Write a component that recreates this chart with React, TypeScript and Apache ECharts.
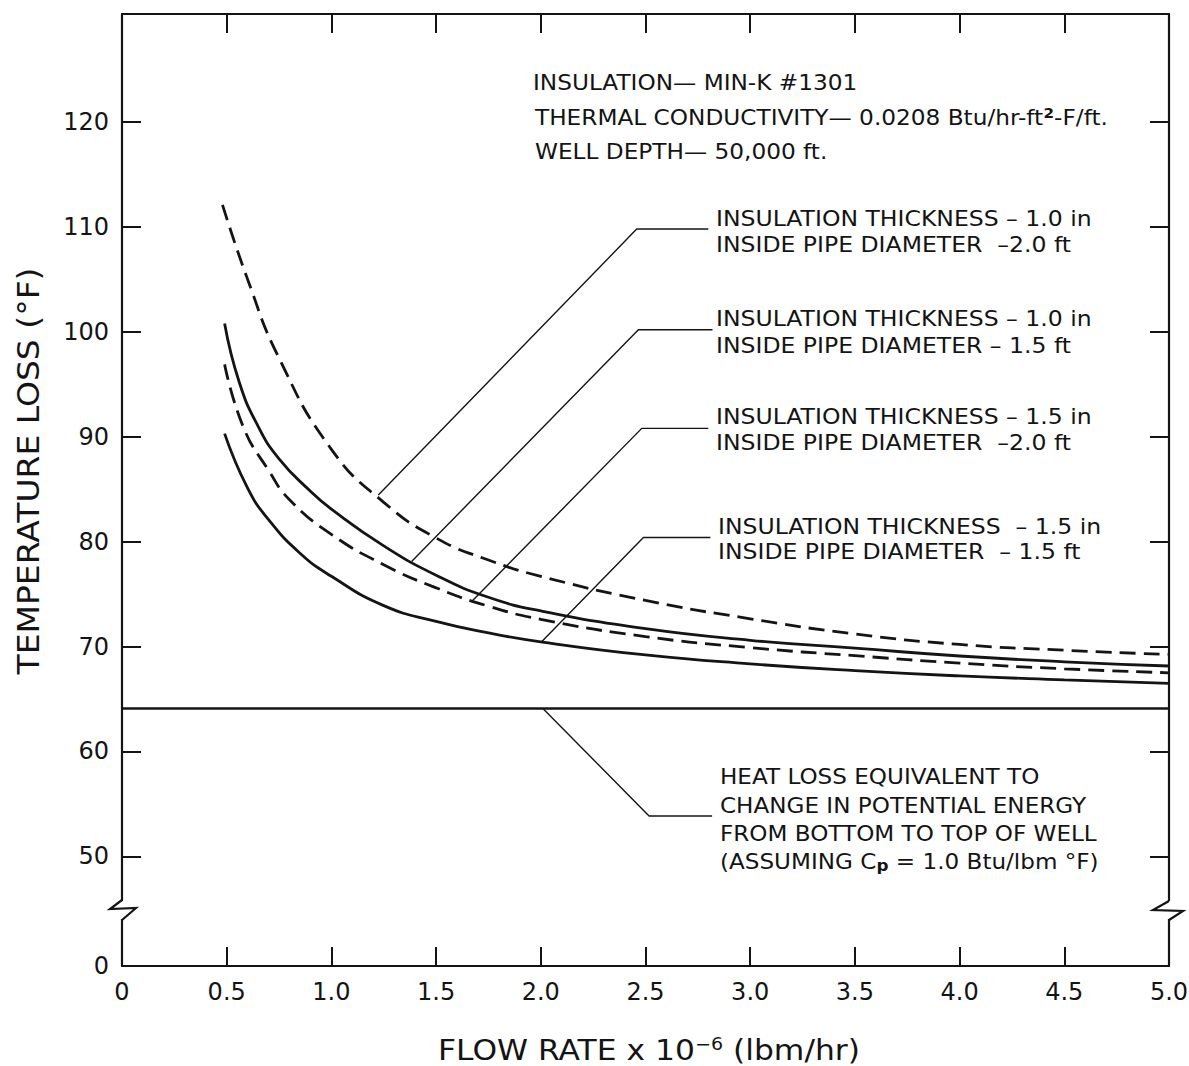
import { useEffect, useRef } from 'react';
import * as echarts from 'echarts';

// ---------- data ----------
// x: flow rate x 10^-6 (lbm/hr), y: temperature loss (°F)
const flowA = [0.48, 0.6, 0.75, 1.0, 1.25, 1.5, 1.75, 2.0, 2.5, 3.0, 3.5, 4.0, 4.5, 5.0];
const lossA = [112.1, 105.0, 97.5, 88.8, 83.75, 80.35, 78.25, 76.7, 74.4, 72.65, 71.2, 70.2, 69.65, 69.25]; // 1.0 in / 2.0 ft (dashed)

const flowB = [0.49, 0.56, 0.65, 0.75, 0.9, 1.0, 1.25, 1.5, 1.75, 2.0, 2.5, 3.0, 3.5, 4.0, 4.5, 5.0];
const lossB = [100.8, 95.2, 91.0, 87.9, 84.8, 83.1, 79.6, 76.8, 74.7, 73.4, 71.7, 70.6, 69.85, 69.1, 68.55, 68.15]; // 1.0 in / 1.5 ft (solid)

const flowC = [0.49, 0.58, 0.7, 0.8, 1.0, 1.25, 1.5, 1.75, 2.0, 2.5, 3.0, 3.5, 4.0, 4.5, 5.0];
const lossC = [96.9, 90.9, 86.8, 84.0, 80.7, 77.8, 75.6, 73.85, 72.6, 70.95, 69.9, 69.13, 68.42, 67.88, 67.5]; // 1.5 in / 2.0 ft (dashed)

const flowD = [0.49, 0.6, 0.7, 0.85, 1.0, 1.25, 1.5, 1.75, 2.0, 2.5, 3.0, 3.5, 4.0, 4.5, 5.0];
const lossD = [90.3, 85.1, 82.1, 78.9, 76.7, 73.9, 72.4, 71.3, 70.45, 69.2, 68.35, 67.7, 67.2, 66.83, 66.5]; // 1.5 in / 1.5 ft (solid)

const potentialFlow = [0, 5];
const potentialLoss = [64.1, 64.1]; // heat loss equivalent to change in potential energy

// leader lines (data coordinates)
const leader1X = [1.224, 2.458, 2.8];
const leader1Y = [84.45, 109.8, 109.8];
const leader2X = [1.383, 2.466, 2.82];
const leader2Y = [78.1, 100.2, 100.2];
const leader3X = [1.67, 2.482, 2.8];
const leader3Y = [74.3, 90.8, 90.8];
const leader4X = [2.004, 2.49, 2.81];
const leader4Y = [70.45, 80.4, 80.4];
const leader5X = [2.01, 2.517, 2.818];
const leader5Y = [64.1, 53.85, 53.85];

// axes
const xMin = 0;
const xMax = 5;
const xInterval = 0.5;
const yTickValues = [50, 60, 70, 80, 90, 100, 110, 120];
const yBreakZero = 39.55; // where the "0" label sits, below the axis break
const yTop = 130.3;

const INK = '#141414';
const FONT = '"DejaVu Sans", "Liberation Sans", sans-serif';

const zip = (xs: number[], ys: number[]) => xs.map((x, i) => [x, ys[i]]);

function curve(name: string, xs: number[], ys: number[], dashed: boolean) {
  return {
    type: 'line',
    name,
    data: zip(xs, ys),
    smooth: 0.5,
    showSymbol: false,
    symbol: 'none',
    silent: true,
    z: 3,
    lineStyle: { color: INK, width: 2.8, type: dashed ? [16, 8] : 'solid' },
  };
}

function leader(name: string, xs: number[], ys: number[]) {
  return {
    type: 'line',
    name,
    data: zip(xs, ys),
    showSymbol: false,
    symbol: 'none',
    silent: true,
    z: 2,
    lineStyle: { color: INK, width: 1.4 },
  };
}

function label(text: string, x: number, y: number, fontSize: number, scaleX: number, extra: any = {}) {
  return {
    type: 'text',
    x,
    y,
    scaleX,
    z: 100,
    style: {
      text,
      fontSize,
      fontFamily: FONT,
      fill: INK,
      align: 'left',
      verticalAlign: 'middle',
      ...extra,
    },
  };
}

const axisLineStyle = { show: true, onZero: false, lineStyle: { color: INK, width: 2.2 } };
const axisTickStyle = { show: true, inside: true, length: 19, lineStyle: { color: INK, width: 2 } };

export default function App() {
  const ref = useRef<HTMLDivElement>(null);

  useEffect(() => {
    if (!ref.current) return;
    const chart = echarts.init(ref.current, undefined, { renderer: 'svg' });

    const option: any = {
      animation: false,
      backgroundColor: '#ffffff',
      grid: { left: 122, right: 20, top: 14, bottom: 100, outerBoundsMode: 'none' },
      xAxis: [
        {
          type: 'value',
          min: xMin,
          max: xMax,
          interval: xInterval,
          position: 'bottom',
          axisLine: axisLineStyle,
          axisTick: axisTickStyle,
          axisLabel: {
            show: true,
            margin: 14,
            fontSize: 24,
            fontFamily: FONT,
            color: INK,
            formatter: (v: number) => (v === 0 ? '0' : v.toFixed(1)),
          },
          splitLine: { show: false },
        },
        {
          type: 'value',
          min: xMin,
          max: xMax,
          interval: xInterval,
          position: 'top',
          axisLine: axisLineStyle,
          axisTick: axisTickStyle,
          axisLabel: { show: false },
          splitLine: { show: false },
        },
      ],
      yAxis: [
        {
          type: 'value',
          min: yBreakZero,
          max: yTop,
          position: 'left',
          axisLine: axisLineStyle,
          axisTick: { ...axisTickStyle, customValues: yTickValues },
          axisLabel: {
            show: true,
            customValues: [yBreakZero, ...yTickValues],
            margin: 13,
            fontSize: 24,
            fontFamily: FONT,
            color: INK,
            formatter: (v: number) => (v < 45 ? '0' : String(Math.round(v))),
          },
          splitLine: { show: false },
        },
        {
          type: 'value',
          min: yBreakZero,
          max: yTop,
          position: 'right',
          axisLine: axisLineStyle,
          axisTick: { ...axisTickStyle, customValues: yTickValues },
          axisLabel: { show: false },
          splitLine: { show: false },
        },
      ],
      series: [
        curve('1.0 in, 2.0 ft', flowA, lossA, true),
        curve('1.0 in, 1.5 ft', flowB, lossB, false),
        curve('1.5 in, 2.0 ft', flowC, lossC, true),
        curve('1.5 in, 1.5 ft', flowD, lossD, false),
        {
          type: 'line',
          name: 'potential energy',
          data: zip(potentialFlow, potentialLoss),
          showSymbol: false,
          symbol: 'none',
          silent: true,
          z: 3,
          lineStyle: { color: INK, width: 2.6 },
        },
        leader('leader 1', leader1X, leader1Y),
        leader('leader 2', leader2X, leader2Y),
        leader('leader 3', leader3X, leader3Y),
        leader('leader 4', leader4X, leader4Y),
        leader('leader 5', leader5X, leader5Y),
      ],
      graphic: [
        // axis breaks
        { type: 'rect', z: 100, shape: { x: 118, y: 901, width: 8, height: 18 }, style: { fill: '#ffffff' } },
        {
          type: 'polyline',
          z: 101,
          shape: { points: [[122, 900], [110, 909], [136, 908], [122, 920]] },
          style: { stroke: INK, lineWidth: 2.2, fill: 'none' },
        },
        { type: 'rect', z: 100, shape: { x: 1165, y: 901, width: 8, height: 18 }, style: { fill: '#ffffff' } },
        {
          type: 'polyline',
          z: 101,
          shape: { points: [[1169, 901], [1153, 910], [1183, 911], [1169, 920]] },
          style: { stroke: INK, lineWidth: 2.2, fill: 'none' },
        },
        // header
        label('INSULATION— MIN-K #1301', 533, 82.5, 21.5, 1.08),
        label('', 535, 117.5, 21.5, 1.08, {
          text: '{a|THERMAL CONDUCTIVITY— 0.0208 Btu/hr-ft}{s|2}{a|-F/ft.}',
          rich: {
            a: { fontSize: 21.5, fontFamily: FONT, fill: INK, lineHeight: 24 },
            s: { fontSize: 14, fontFamily: FONT, fill: INK, lineHeight: 14, verticalAlign: 'top', fontWeight: 'bold' },
          },
        }),
        label('WELL DEPTH— 50,000 ft.', 535, 151.5, 21.5, 1.08),
        // curve annotations
        label('INSULATION THICKNESS – 1.0 in\nINSIDE PIPE DIAMETER  –2.0 ft', 716, 231, 22, 1.07, { lineHeight: 26 }),
        label('INSULATION THICKNESS – 1.0 in\nINSIDE PIPE DIAMETER – 1.5 ft', 716, 331.5, 22, 1.07, { lineHeight: 27 }),
        label('INSULATION THICKNESS – 1.5 in\nINSIDE PIPE DIAMETER  –2.0 ft', 716, 429, 22, 1.07, { lineHeight: 26 }),
        label('INSULATION THICKNESS  – 1.5 in\nINSIDE PIPE DIAMETER  – 1.5 ft', 718, 538.5, 22, 1.07, { lineHeight: 25 }),
        // potential energy note
        label('HEAT LOSS EQUIVALENT TO', 720, 776, 22, 1.05),
        label('CHANGE IN POTENTIAL ENERGY', 720, 805, 22, 1.05),
        label('FROM BOTTOM TO TOP OF WELL', 720, 833.5, 22, 1.05),
        label('', 720, 861.5, 22, 1.05, {
          text: '{a|(ASSUMING C}{s|p}{a| = 1.0 Btu/lbm °F)}',
          rich: {
            a: { fontSize: 22, fontFamily: FONT, fill: INK, lineHeight: 24 },
            s: { fontSize: 16, fontFamily: FONT, fill: INK, lineHeight: 16, verticalAlign: 'bottom', fontWeight: 'bold' },
          },
        }),
        // axis titles
        {
          type: 'text',
          x: 649,
          y: 1050,
          scaleX: 1.12,
          z: 100,
          style: {
            text: '{a|FLOW RATE x 10}{s|−6}{a| (lbm/hr)}',
            align: 'center',
            verticalAlign: 'middle',
            fill: INK,
            rich: {
              a: { fontSize: 28, fontFamily: FONT, fill: INK, lineHeight: 30 },
              s: { fontSize: 17, fontFamily: FONT, fill: INK, lineHeight: 17, verticalAlign: 'top' },
            },
          },
        },
        {
          type: 'text',
          x: 29,
          y: 471,
          rotation: Math.PI / 2,
          scaleX: 1.1,
          z: 100,
          style: {
            text: 'TEMPERATURE LOSS (°F)',
            fontSize: 30,
            fontFamily: FONT,
            fill: INK,
            align: 'center',
            verticalAlign: 'middle',
          },
        },
      ],
    };

    chart.setOption(option);
    return () => chart.dispose();
  }, []);

  return (
    <div
      ref={ref}
      style={{ position: 'fixed', left: 0, top: 0, width: 1189, height: 1066, background: '#fff' }}
    />
  );
}
